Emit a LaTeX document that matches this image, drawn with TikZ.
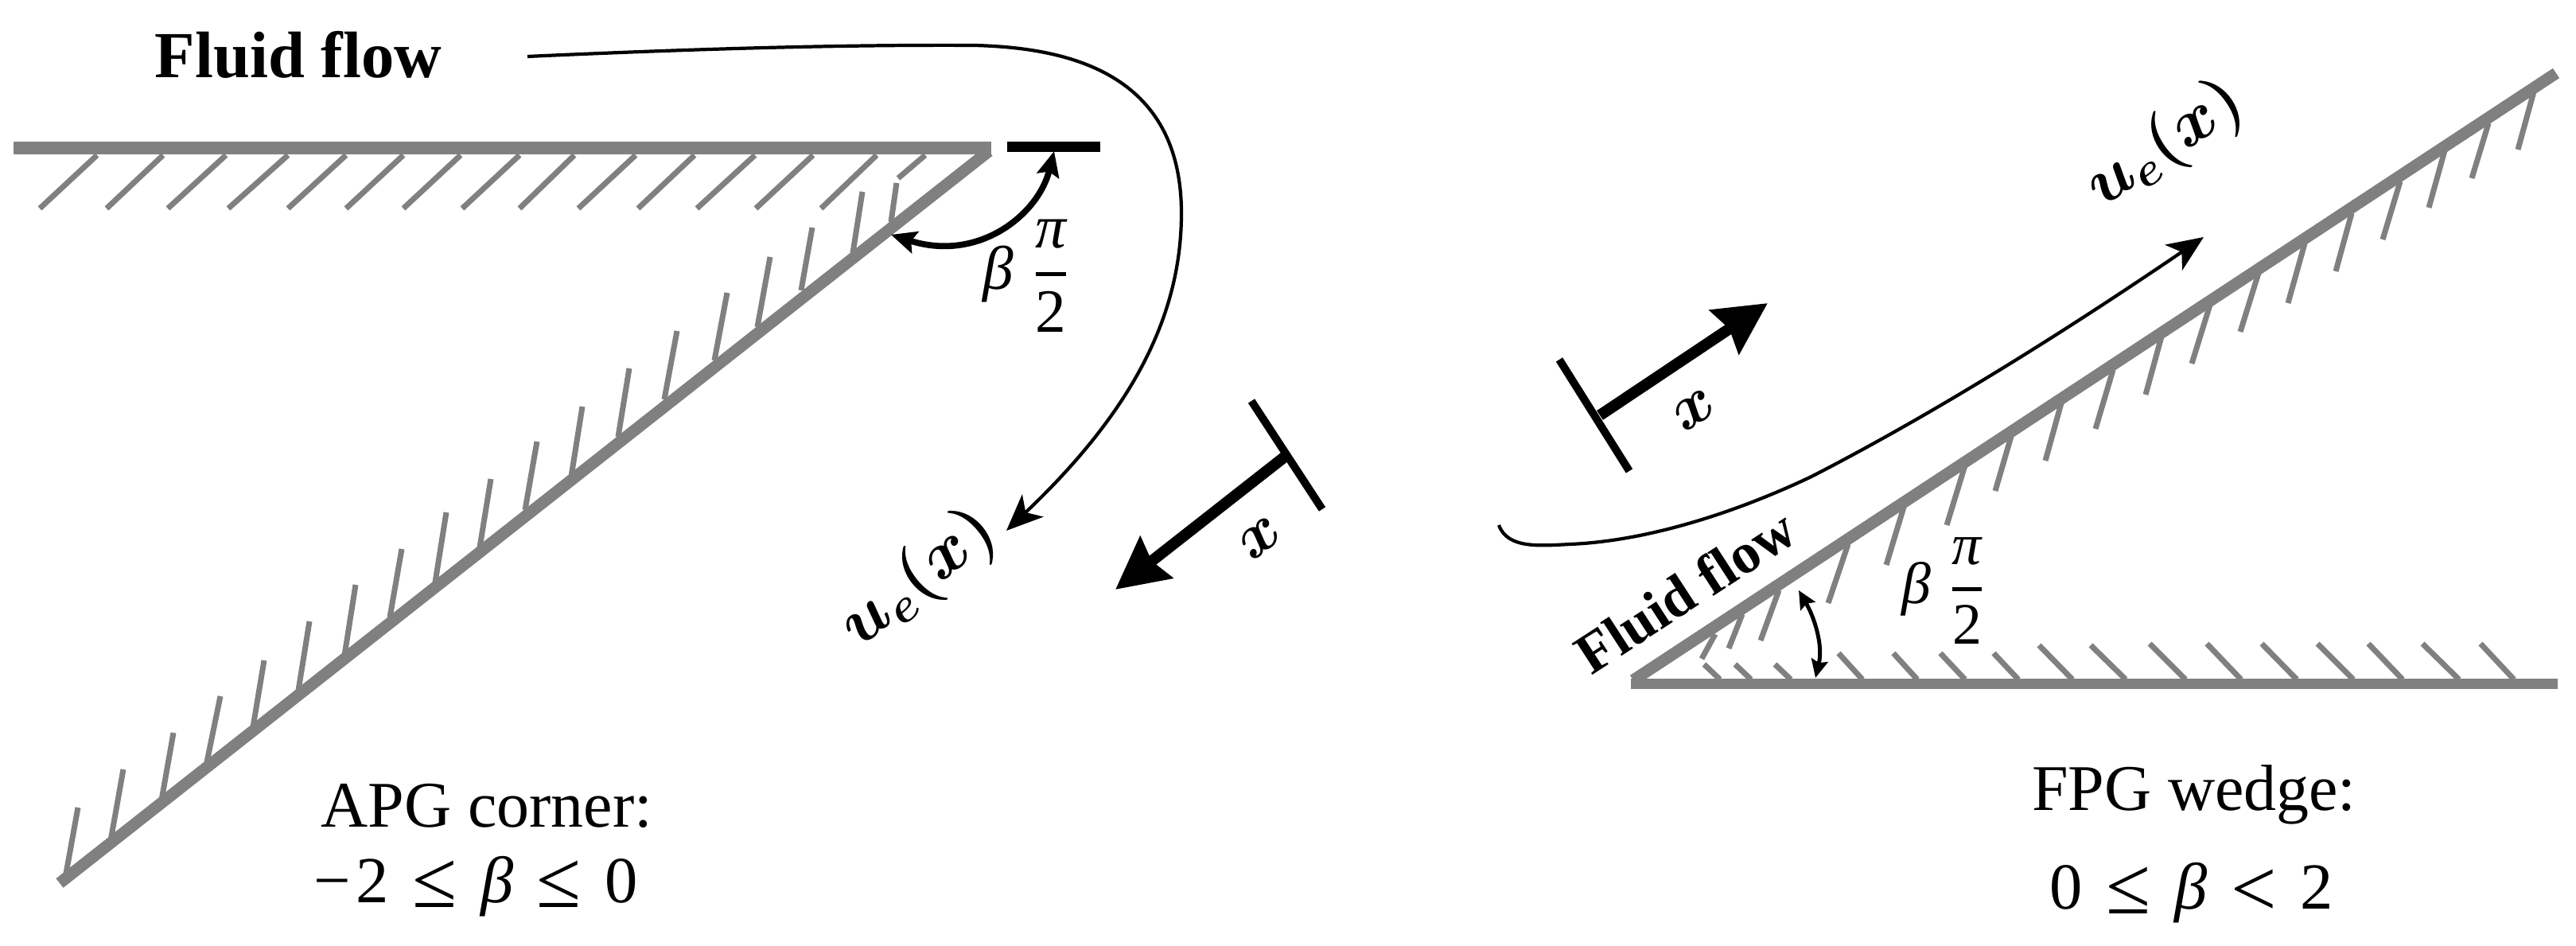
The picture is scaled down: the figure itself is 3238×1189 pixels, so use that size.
\RequirePackage{fix-cm}
\documentclass[tikz,border=0pt]{standalone}
\usepackage{amsmath}
\usepackage{fontspec}
\setmainfont{Liberation Serif}
\usetikzlibrary{arrows.meta}
\tikzset{
  wall/.style={draw=wallgray,line width=4.2pt,line cap=butt,line join=miter},
  hatchline/.style={draw=wallgray,line width=2pt},
  flowline/.style={draw=black,line width=1.2pt,-{Stealth[length=13pt,width=11pt,inset=3.5pt]}},
  thickarrow/.style={draw=black,line width=4pt,-{Stealth[length=18.5pt,width=18.5pt,inset=2pt]}},
  tbar/.style={draw=black,line width=2.8pt},
  anglearrow/.style={draw=black,line width=2.2pt,{Stealth[length=9pt,width=8pt,inset=1.5pt]}-{Stealth[length=9pt,width=8pt,inset=1.5pt]}},
  anglearrowsmall/.style={draw=black,line width=1.4pt,{Stealth[length=6.5pt,width=6pt,inset=1pt]}-{Stealth[length=6.5pt,width=6pt,inset=1pt]}},
  label/.style={inner sep=0pt,outer sep=0pt,anchor=base},
  rotlabel/.style={inner sep=0pt,outer sep=0pt,anchor=center}
}
\definecolor{wallgray}{HTML}{808080}
\newcommand{\fsize}[1]{\fontsize{#1}{#1}\selectfont}
\newcommand{\boldm}[1]{{\boldmath$#1$}}
\newcommand{\betafrac}{\textit{β}\hspace{.3em}$\genfrac{}{}{1.3pt}{0}{\text{\itshape π}}{\text{2}}$}
\newcommand{\gap}{\hspace{.36em}}
\newcommand{\bigrel}[1]{{\fsize{29}\raisebox{-1.5pt}{#1}}}
\begin{document}
\begin{tikzpicture}[x=0.01cm,y=-0.01cm]
\useasboundingbox (0,0) rectangle (3238,1189);
% APG corner
\coordinate (aw0) at (17,186);
\coordinate (ac) at (1246,186);
\coordinate (aw1) at (75,1110);
\foreach \a/\b/\c/\d in {122/195/50/262,205/195/134/262,284/195/211/262,362/195/287/262,435/195/362/262,507/195/435/262,579/195/507/262,653/195/581/262,722/195/653/262,799/195/727/262,873/195/802/262,949/195/876/262,1022/195/950/262,1102/195/1032/262,1163/195/1129/224,
 81/1109/98/1015,139/1057/155/967,203/1006/218/921,260/958/277/875,318/914/332/830,375/868/389/781,433/824/447/735,490/776/505/690,547/732/561/644,603/688/617/602,660/641/675/555,718/599/732/511,777/549/791/463,835/502/851/416,898/453/914/368,952/411/968/323,1007/365/1021/286,1072/318/1084/241,1120/279/1127/230,
 3185/115/3165/188,3128/155/3107/224,3073/189/3053/261,3017/228/2995/301,2956/268/2936/341,2897/306/2876/381,2839/343/2816/417,2778/383/2755/457,2717/423/2697/496,2656/465/2634/539,2592/503/2571/579,2529/545/2508/617,2470/585/2447/660,2394/634/2371/710,2323/684/2298/758,2236/742/2213/805,2190/772/2173/815,2156/797/2139/828,
 2162/854/2142/835,2201/854/2181/835,2251/854/2231/835,2341/854/2311/821,2410/854/2380/821,2470/854/2439/821,2537/854/2506/821,2605/854/2563/811,2672/854/2628/811,2747/854/2702/809,2817/854/2774/809,2887/854/2843/809,2958/854/2913/809,3020/854/2977/809,3091/854/3045/809,3160/854/3118/809}
  \draw[hatchline] (\a,\b) -- (\c,\d);
\draw[wall,line width=4.5pt] (aw0) -- (ac);
\draw[wall] (1243,190) -- (aw1);
\node[label] (fluidA) at (375,98) {\fsize{23.5}\bfseries Fluid flow};
\coordinate (ats) at (1266,185);
\coordinate (ate) at (1383,185);
\draw[draw=black,line width=3.7pt] (ats) -- (ate);
\coordinate (aa0) at (1325,190);
\coordinate (aa1) at (1120,295);
\draw[anglearrow] (aa0) .. controls (1305,270) and (1230,330) .. (aa1);
\node[label] (betaA) at (1290,364) {\fsize{22}\betafrac};
\coordinate (af0) at (663,71);
\coordinate (af1) at (1225,57);
\coordinate (af2) at (1485,268);
\coordinate (af3) at (1265,667);
\draw[flowline] (af0) .. controls (860,62) and (1050,56) .. (af1) .. controls (1340,60) and (1485,90) .. (af2) .. controls (1485,400) and (1420,520) .. (af3);
\node[rotlabel,rotate=39] (ueA) at (1155,728) {\fsize{24.5}\boldm{u_e(x)}};
\coordinate (at0) at (1573,504);
\coordinate (at1) at (1662,640);
\coordinate (at2) at (1615,574);
\coordinate (at3) at (1402,741);
\draw[tbar] (at0) -- (at1);
\draw[thickarrow] (at2) -- (at3);
\node[rotlabel,rotate=38] (xA) at (1584,677) {\fsize{22.5}\boldm{x}};
\node[label] (apg) at (612,1040) {\fsize{23.3}APG corner:};
\node[label] (apgr) at (598,1135) {\fsize{23.5}−\hspace{.08em}2\gap\bigrel{≤}\gap\textit{β}\gap\bigrel{≤}\gap 0};
% FPG wedge
\coordinate (fw0) at (2050,860);
\coordinate (fw1) at (3215,860);
\coordinate (fd0) at (2053,855);
\coordinate (fd1) at (3213,92);
\draw[wall,line width=3.7pt] (fw0) -- (fw1);
\draw[wall] (fd0) -- (fd1);
\coordinate (ft0) at (1960,452);
\coordinate (ft1) at (2048,592);
\coordinate (ft2) at (2011,522);
\coordinate (ft3) at (2222,381);
\draw[tbar] (ft0) -- (ft1);
\draw[thickarrow] (ft2) -- (ft3);
\node[rotlabel,rotate=33] (xF) at (2130,516) {\fsize{22.5}\boldm{x}};
\node[rotlabel,rotate=34] (ueF) at (2722,182) {\fsize{24}\boldm{u_e(x)}};
\coordinate (ff0) at (1884,660);
\coordinate (ff1) at (1974,684);
\coordinate (ff2) at (2277,599);
\coordinate (ff3) at (2770,298);
\draw[flowline] (ff0) .. controls (1895,690) and (1935,686) .. (ff1) .. controls (2070,680) and (2180,645) .. (ff2) .. controls (2450,510) and (2620,400) .. (ff3);
\node[rotlabel,rotate=33] (fluidF) at (2118,743) {\fsize{20.4}\bfseries Fluid flow};
\coordinate (fa0) at (2261,742);
\coordinate (fa1) at (2282,852);
\draw[anglearrowsmall] (fa0) .. controls (2280,775) and (2292,810) .. (fa1);
\node[label] (betaF) at (2443,759) {\fsize{21}\betafrac};
\node[label] (fpg) at (2758,1019) {\fsize{23.3}FPG wedge:};
\node[label] (fpgr) at (2755,1143) {\fsize{23.5}0\gap\bigrel{≤}\gap\textit{β}\gap\raisebox{-1pt}{\bigrel{<}}\gap 2};
\end{tikzpicture}
\end{document}
